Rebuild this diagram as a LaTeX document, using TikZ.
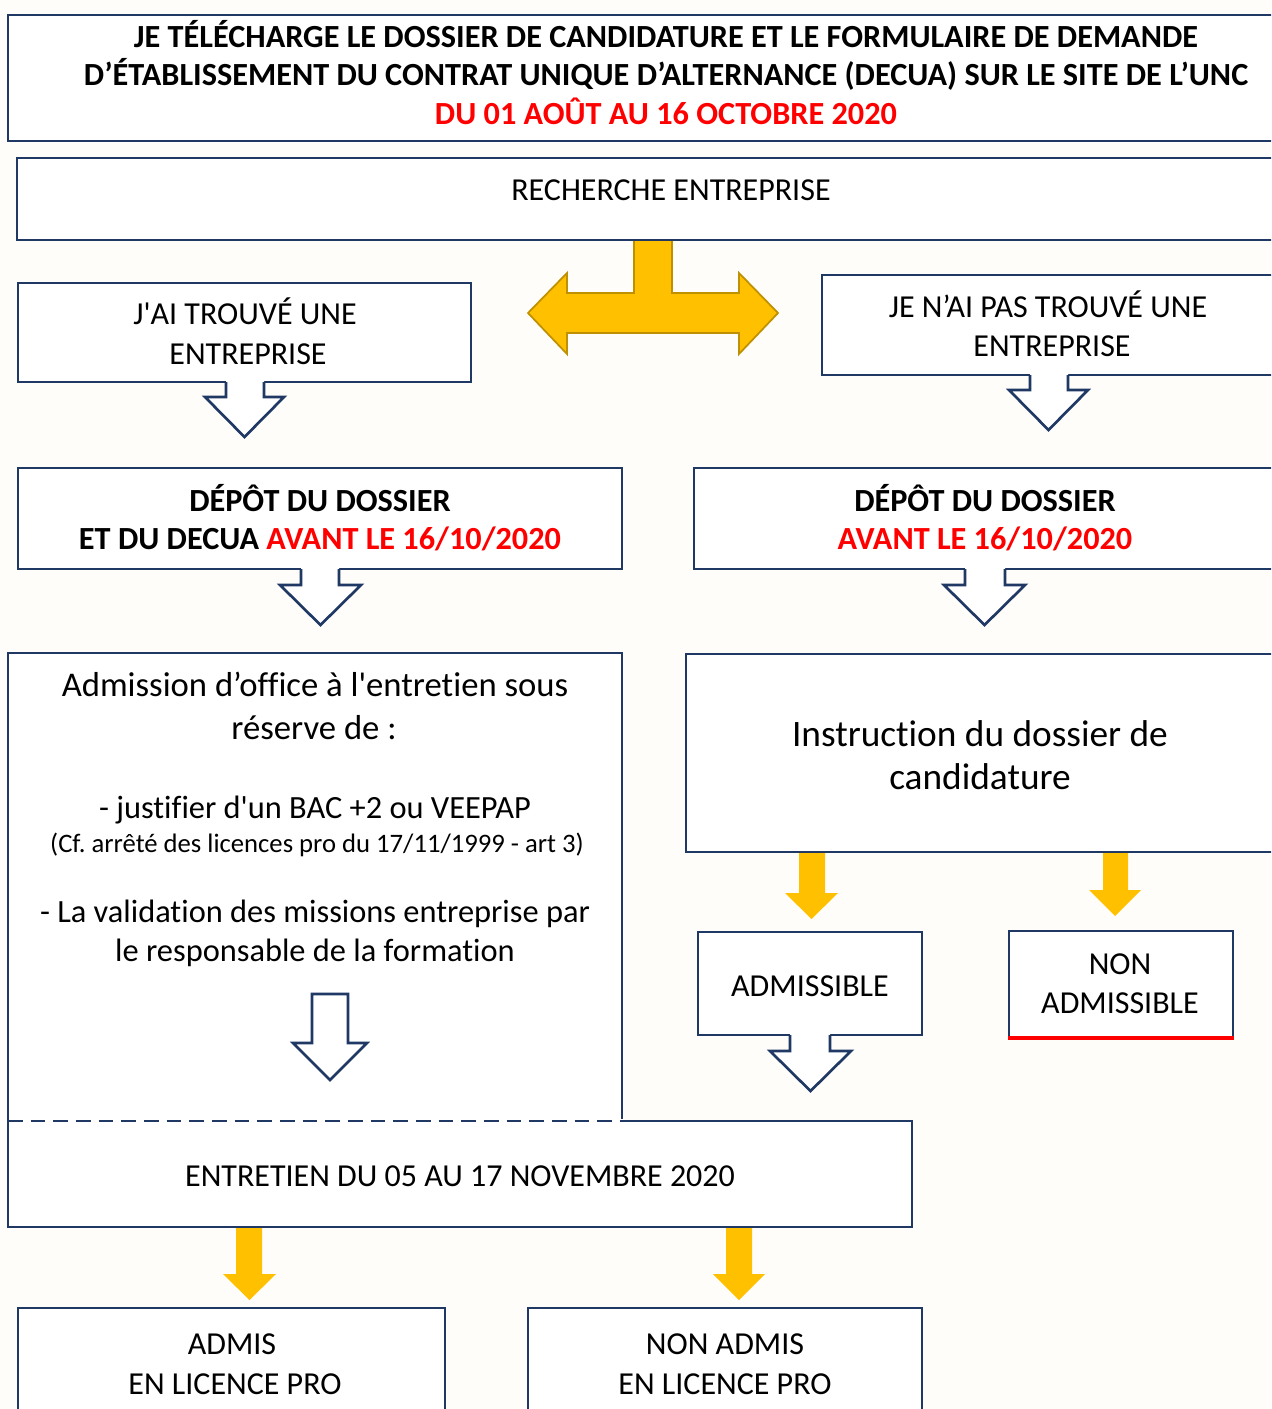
\documentclass[tikz,border=0pt]{standalone}
\usepackage{fontspec}
\setmainfont{Carlito}[Ligatures={TeXOff,CommonOff}]
\frenchspacing
\definecolor{navy}{RGB}{31,56,100}
\definecolor{bgc}{RGB}{254,253,250}
\definecolor{gold}{RGB}{255,192,0}
\definecolor{golddark}{RGB}{191,144,0}
\definecolor{redtxt}{RGB}{255,0,0}
\newcommand\callarrow[7]{%
  \fill[white] (#1,#3-3) -- (#1,#4) -- (#5,#4) -- ({(#5+#6)/2},#7) -- (#6,#4) -- (#2,#4) -- (#2,#3-3) -- cycle;
  \draw[hollow] (#1,#3) -- (#1,#4) -- (#5,#4) -- ({(#5+#6)/2},#7) -- (#6,#4) -- (#2,#4) -- (#2,#3);
}
\newcommand\yarrow[7]{%
  \fill[gold] (#1,#3) -- (#1,#4) -- (#5,#4) -- ({(#5+#6)/2},#7) -- (#6,#4) -- (#2,#4) -- (#2,#3) -- cycle;
}
\tikzset{
  box/.style={draw=navy, fill=white, line width=2.2pt},
  hollow/.style={draw=navy, line width=2pt, line join=miter},
  txt/.style={anchor=base, inner sep=0pt, font=\fontsize{24}{29}\selectfont},
  btxt/.style={txt, font=\fontsize{24.2}{29}\selectfont\bfseries},
  mtxt/.style={anchor=base, inner sep=0pt, font=\fontsize{26}{31}\selectfont},
  ltxt/.style={anchor=base, inner sep=0pt, font=\fontsize{24.3}{29}\selectfont},
  stxt/.style={anchor=base, inner sep=0pt, font=\fontsize{20}{23}\selectfont},
  itxt/.style={anchor=base, inner sep=0pt, font=\fontsize{28}{33}\selectfont},
}
\begin{document}
\begin{tikzpicture}[x=0.75pt,y=-0.75pt]
\useasboundingbox (0,0) rectangle (1271,1409);
\clip (0,0) rectangle (1271,1409);
\fill[bgc] (0,0) rectangle (1271,1409);

% title
\path[box] (8,15) rectangle (1290,141);
\node[btxt] (t1) at (666,48) {JE TÉLÉCHARGE LE DOSSIER DE CANDIDATURE ET LE FORMULAIRE DE DEMANDE};
\node[btxt] (t2) at (666,86) {D’ÉTABLISSEMENT DU CONTRAT UNIQUE D’ALTERNANCE (DECUA) SUR LE SITE DE L’UNC};
\node[btxt, text=redtxt] (t3) at (666,125) {DU 01 AOÛT AU 16 OCTOBRE 2020};

% recherche
\path[box] (17,158) rectangle (1290,240);
\node[txt] (rech) at (671,200) {RECHERCHE ENTREPRISE};

% T arrow
\draw[fill=gold, draw=golddark, line width=1.3pt, line join=miter]
  (634,241) -- (634,293) -- (567,293) -- (567,273) -- (528,313) -- (567,354) -- (567,333)
  -- (739,333) -- (739,354) -- (778,313) -- (739,273) -- (739,293) -- (672,293) -- (672,241);

% J'ai trouve
\path[box] (18,283) rectangle (471,382);
\callarrow{226}{264}{382}{397}{205}{284}{437}
\node[txt] (trouve1) at (245,324) {J'AI TROUVÉ UNE};
\node[txt] (trouve2) at (248,364) {ENTREPRISE};

% Je n'ai pas trouve
\path[box] (822,275) rectangle (1290,375);
\callarrow{1030}{1068}{375}{390}{1009}{1088}{430}
\node[txt] (pas1) at (1048,317) {JE N’AI PAS TROUVÉ UNE};
\node[txt] (pas2) at (1052,356) {ENTREPRISE};

% depot left
\path[box] (18,468) rectangle (622,569);
\callarrow{301}{339}{569}{585}{280}{361}{625}
\node[btxt] (dl1) at (320,511) {DÉPÔT DU DOSSIER};
\node[btxt] (dl2) at (320,549) {ET DU DECUA \textcolor{redtxt}{AVANT LE 16/10/2020}};

% depot right
\path[box] (694,468) rectangle (1290,569);
\callarrow{965}{1005}{569}{585}{944}{1025}{625}
\node[btxt] (dr1) at (985,511) {DÉPÔT DU DOSSIER};
\node[btxt, text=redtxt] (dr2) at (985,549) {AVANT LE 16/10/2020};

% entretien box
\path[fill=white] (8,1121) rectangle (912,1227);
\draw[navy, line width=2.2pt] (623,1121) -- (912,1121) -- (912,1227) -- (8,1227) -- (8,1121);

% admission box
\path[fill=white] (8,653) rectangle (622,1121);
\draw[navy, line width=2.2pt] (8,1121) -- (8,653) -- (622,653) -- (622,1119);
\draw[navy, line width=2.2pt, dash pattern=on 11pt off 6pt] (8,1121) -- (655,1121);
\node[mtxt] (ad1) at (315,696) {Admission d’office à l'entretien sous};
\node[mtxt] (ad2) at (314,739) {réserve de :};
\node[ltxt] (ad3) at (315,818) {- justifier d'un BAC +2 ou VEEPAP};
\node[stxt] (ad4) at (317,852) {(Cf. arrêté des licences pro du 17/11/1999 - art 3)};
\node[ltxt] (ad5) at (315,922) {- La validation des missions entreprise par};
\node[ltxt] (ad6) at (315,961) {le responsable de la formation};
\draw[hollow] (312,994) -- (348,994) -- (348,1043) -- (367,1043) -- (330,1080) -- (293,1043) -- (312,1043) -- cycle;

\node[txt] (ent) at (460,1186) {ENTRETIEN DU 05 AU 17 NOVEMBRE 2020};

% instruction
\path[box] (686,654) rectangle (1290,852);
\node[itxt] (ins1) at (980,746) {Instruction du dossier de};
\node[itxt] (ins2) at (980,789) {candidature};

\yarrow{799}{825}{853}{893}{785}{838}{919}
\yarrow{1103}{1128}{853}{890}{1089}{1141}{916}

% admissible
\path[box] (698,932) rectangle (922,1035);
\callarrow{790}{830}{1035}{1051}{770}{851}{1091}
\node[txt] (adm) at (810,996) {ADMISSIBLE};

% non admissible
\path[box] (1009,931) rectangle (1233,1038);
\draw[redtxt, line width=2.6pt] (1008,1038) -- (1234,1038);
\node[txt] (nadm1) at (1120,974) {NON};
\node[txt] (nadm2) at (1120,1013) {ADMISSIBLE};

% bottom arrows
\yarrow{236}{262}{1228}{1274}{223}{276}{1300}
\yarrow{726}{752}{1228}{1274}{713}{765}{1300}

% admis
\path[box] (18,1308) rectangle (445,1430);
\node[txt] (admis1) at (232,1354) {ADMIS};
\node[txt] (admis2) at (235,1394) {EN LICENCE PRO};

\path[box] (528,1308) rectangle (922,1430);
\node[txt] (nadmis1) at (725,1354) {NON ADMIS};
\node[txt] (nadmis2) at (725,1394) {EN LICENCE PRO};
\end{tikzpicture}
\end{document}
